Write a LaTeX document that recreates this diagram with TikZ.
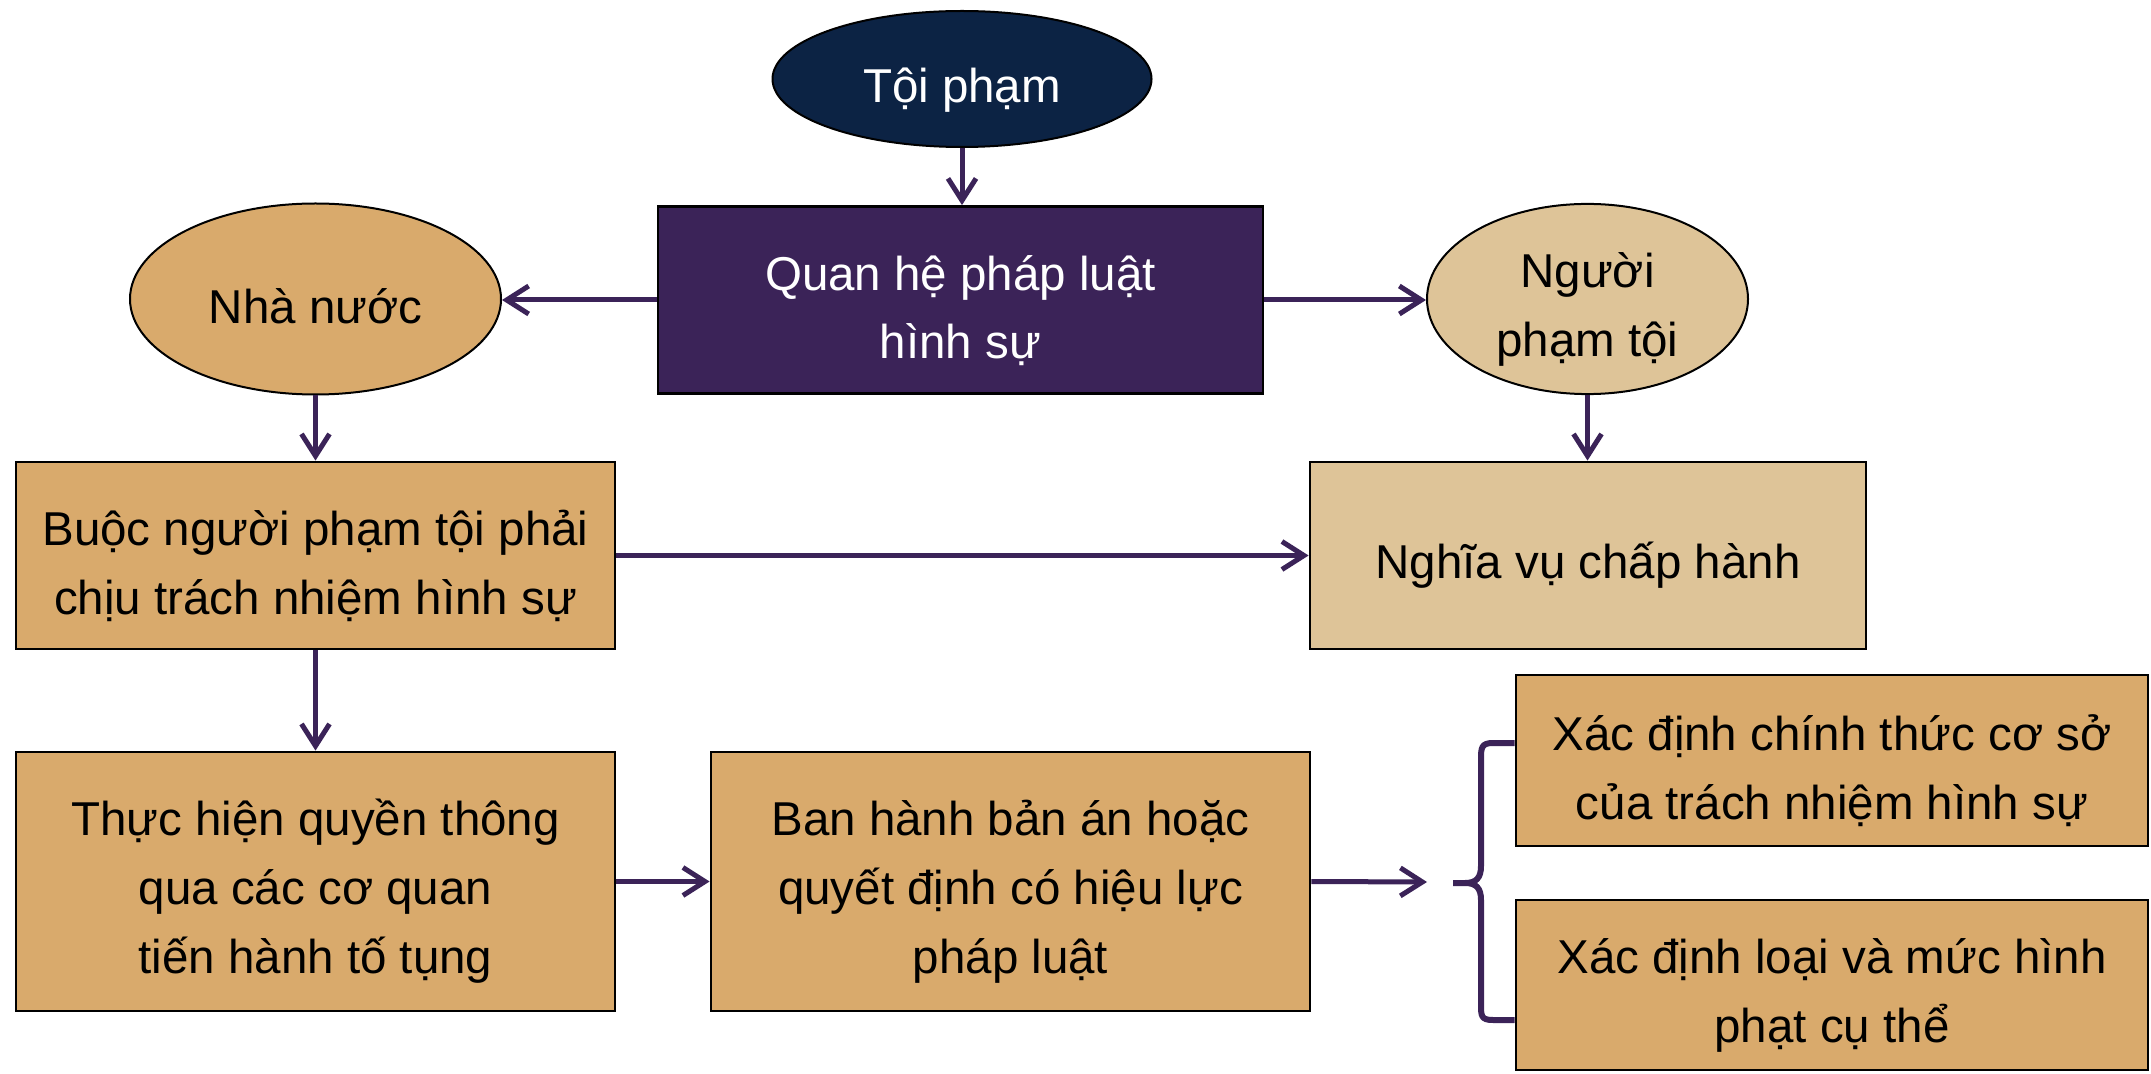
\documentclass[tikz,border=0pt]{standalone}
\usepackage{fontspec}
\setmainfont{Liberation Sans}
\usetikzlibrary{shapes.geometric,arrows.meta}
\definecolor{navy}{HTML}{0C2344}
\definecolor{plum}{HTML}{3B2358}
\definecolor{tan}{HTML}{D9AA6C}
\definecolor{lighttan}{HTML}{DEC498}
\newcommand\tup{\rule{0pt}{28pt}}
\tikzset{
  txt/.style={font=\fontsize{23.75}{34.3}\selectfont, align=center, inner sep=0pt},
  oval/.style={txt, ellipse, draw=black, line width=1pt},
  box/.style={txt, rectangle, draw=black, line width=1.4pt},
  conn/.style={draw=plum, line width=2.5pt, -{Straight Barb[length=11pt,width=14pt]}},
  bracestyle/.style={draw=plum, line width=3pt},
}
\begin{document}
\begin{tikzpicture}[x=0.5pt,y=-0.5pt]
\useasboundingbox (0,0) rectangle (2151,1074);
\node[oval, fill=navy, text=white, minimum width=189.5pt, minimum height=68pt] (toi) at (962,79) {\tup Tội phạm};
\node[box, fill=plum, text=white, minimum width=302.5pt, minimum height=93.5pt] (qh) at (960.5,300) {\tup Quan hệ pháp luật\\hình sự};
\node[oval, fill=tan, minimum width=185.5pt, minimum height=95.5pt] (nn) at (315.5,299) {\rule{0pt}{25pt}Nhà nước};
\node[oval, fill=lighttan, minimum width=160.5pt, minimum height=94pt] (ng) at (1587.5,299) {\tup Người\\phạm tội};
\node[box, fill=tan, minimum width=299.5pt, minimum height=93.5pt] (buoc) at (315.5,555.5) {\tup Buộc người phạm tội phải\\chịu trách nhiệm hình sự};
\node[box, fill=lighttan, minimum width=278pt, minimum height=93.5pt] (nv) at (1588,555.5) {\tup Nghĩa vụ chấp hành};
\node[box, fill=tan, minimum width=299.5pt, minimum height=129.5pt] (th) at (315.5,881.5) {\tup Thực hiện quyền thông\\qua các cơ quan\\tiến hành tố tụng};
\node[box, fill=tan, minimum width=299.5pt, minimum height=129.5pt] (bh) at (1010.5,881.5) {\tup Ban hành bản án hoặc\\quyết định có hiệu lực\\pháp luật};
\node[box, fill=tan, minimum width=316pt, minimum height=85.5pt] (x1) at (1832,760.5) {\tup Xác định chính thức cơ sở\\của trách nhiệm hình sự};
\node[box, fill=tan, minimum width=316pt, minimum height=85pt] (x2) at (1832,985) {\tup Xác định loại và mức hình\\phạt cụ thể};
\coordinate (brtip) at (1427,882);
\draw[conn] (toi.south) -- (toi.south |- qh.north);
\draw[conn] (qh.west) -- (qh.west -| nn.east);
\draw[conn] (qh.east) -- (qh.east -| ng.west);
\draw[conn] (nn.south) -- (nn.south |- buoc.north);
\draw[conn] (ng.south) -- (ng.south |- nv.north);
\draw[conn] (buoc.east) -- (buoc.east -| nv.west);
\draw[conn] (buoc.south) -- (buoc.south |- th.north);
\draw[conn] (th.east) -- (th.east -| bh.west);
\draw[conn] (bh.east) -- (brtip);
\draw[bracestyle] (x1.west |- 0,743) -- (1493,743)
  .. controls (1481,743) and (1481,748) .. (1481,760) -- (1481,866)
  .. controls (1481,878) and (1476,883) .. (1465,883) -- (1453,883)
  (1465,883) .. controls (1476,883) and (1481,888) .. (1481,900) -- (1481,1004)
  .. controls (1481,1016) and (1481,1020) .. (1493,1020) -- (x2.west |- 0,1020);
\end{tikzpicture}
\end{document}
